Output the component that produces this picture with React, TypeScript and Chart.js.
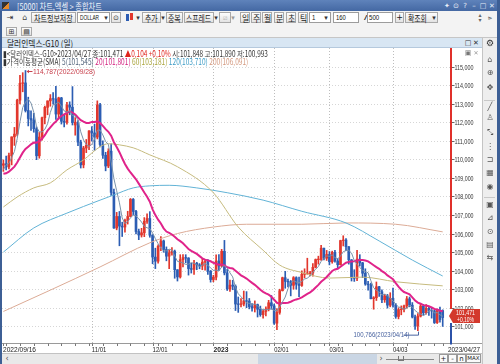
import React, { useEffect, useLayoutEffect, useRef } from "react";
import { Chart, registerables } from "chart.js";
Chart.register(...registerables);

const FONT = "'Noto Sans CJK KR', 'Liberation Sans', sans-serif";
const CFONT = "'Liberation Sans', 'DejaVu Sans', sans-serif";

const dates = [
  "2022/09/16","2022/09/19","2022/09/20","2022/09/21","2022/09/22","2022/09/23","2022/09/26","2022/09/27","2022/09/28","2022/09/29",
  "2022/09/30","2022/10/03","2022/10/04","2022/10/05","2022/10/06","2022/10/07","2022/10/10","2022/10/11","2022/10/12","2022/10/13",
  "2022/10/14","2022/10/17","2022/10/18","2022/10/19","2022/10/20","2022/10/21","2022/10/24","2022/10/25","2022/10/26","2022/10/27",
  "2022/10/28","2022/10/31","2022/11/01","2022/11/02","2022/11/03","2022/11/04","2022/11/07","2022/11/08","2022/11/09","2022/11/10",
  "2022/11/11","2022/11/14","2022/11/15","2022/11/16","2022/11/17","2022/11/18","2022/11/21","2022/11/22","2022/11/23","2022/11/24",
  "2022/11/25","2022/11/28","2022/11/29","2022/11/30","2022/12/01","2022/12/02","2022/12/05","2022/12/06","2022/12/07","2022/12/08",
  "2022/12/09","2022/12/12","2022/12/13","2022/12/14","2022/12/15","2022/12/16","2022/12/19","2022/12/20","2022/12/21","2022/12/22",
  "2022/12/23","2022/12/26","2022/12/27","2022/12/28","2022/12/29","2022/12/30","2023/01/02","2023/01/03","2023/01/04","2023/01/05",
  "2023/01/06","2023/01/09","2023/01/10","2023/01/11","2023/01/12","2023/01/13","2023/01/16","2023/01/17","2023/01/18","2023/01/19",
  "2023/01/20","2023/01/23","2023/01/24","2023/01/25","2023/01/26","2023/01/27","2023/01/30","2023/01/31","2023/02/01","2023/02/02",
  "2023/02/03","2023/02/06","2023/02/07","2023/02/08","2023/02/09","2023/02/10","2023/02/13","2023/02/14","2023/02/15","2023/02/16",
  "2023/02/17","2023/02/20","2023/02/21","2023/02/22","2023/02/23","2023/02/24","2023/02/27","2023/02/28","2023/03/01","2023/03/02",
  "2023/03/03","2023/03/06","2023/03/07","2023/03/08","2023/03/09","2023/03/10","2023/03/13","2023/03/14","2023/03/15","2023/03/16",
  "2023/03/17","2023/03/20","2023/03/21","2023/03/22","2023/03/23","2023/03/24","2023/03/27","2023/03/28","2023/03/29","2023/03/30",
  "2023/03/31","2023/04/03","2023/04/04","2023/04/05","2023/04/06","2023/04/07","2023/04/10","2023/04/11","2023/04/12","2023/04/13",
  "2023/04/14","2023/04/17","2023/04/18","2023/04/19","2023/04/20","2023/04/21","2023/04/24","2023/04/25","2023/04/26","2023/04/27",
];

const opens = [
  109.68,109.76,109.59,110.20,111.21,111.36,113.19,114.10,114.12,112.63,
  112.20,112.12,111.65,110.19,111.20,112.24,112.80,113.15,113.27,113.25,
  112.44,113.31,112.05,112.00,112.92,112.81,111.85,112.00,110.93,109.70,
  110.61,110.75,111.53,111.42,111.20,112.93,110.80,110.22,109.64,110.44,
  108.22,106.30,106.92,106.40,106.35,106.70,106.92,107.84,107.19,106.11,
  105.92,106.04,106.66,106.81,105.91,104.73,104.51,105.31,105.60,105.14,
  104.78,104.96,105.05,104.05,103.66,104.59,104.70,104.68,104.11,104.07,
  104.40,104.31,104.25,104.46,104.49,103.97,103.52,103.65,104.52,104.25,
  105.04,103.88,103.01,103.22,103.16,102.20,102.19,102.20,102.37,102.36,
  102.06,101.99,102.17,101.92,101.63,101.80,101.93,102.27,102.10,101.17,
  101.75,102.92,103.62,103.42,103.40,103.21,103.62,103.27,103.20,103.80,
  103.85,103.86,103.87,104.18,104.60,104.60,105.21,104.67,104.87,104.48,
  104.99,104.52,104.32,105.62,105.65,105.29,104.58,103.61,103.60,104.62,
  104.42,103.86,103.28,103.24,102.49,102.54,103.13,102.86,102.43,102.64,
  102.14,102.51,102.14,101.53,101.90,101.92,102.10,102.48,102.14,101.50,
  101.02,101.55,102.09,101.73,101.97,101.85,101.83,101.20,101.86,101.848,
];
const highs = [
  109.97,110.18,110.34,111.21,111.72,113.24,114.53,114.67,114.787,113.35,
  112.62,112.48,111.75,111.45,112.27,112.87,113.15,113.49,113.60,113.93,
  113.35,113.34,112.41,113.07,113.10,113.92,112.25,112.09,111.03,110.70,
  111.07,111.55,111.76,111.90,113.15,113.02,111.00,110.38,110.57,110.83,
  108.40,107.14,107.19,106.61,106.78,107.20,107.89,107.89,107.25,106.24,
  106.28,106.86,107.06,107.18,105.94,105.21,105.39,105.83,105.65,105.28,
  105.12,105.24,105.11,104.05,104.86,104.86,104.86,104.70,104.40,104.56,
  104.45,104.38,104.61,104.55,104.59,104.01,103.75,104.85,104.87,105.15,
  105.63,104.07,103.49,103.48,103.23,102.58,102.50,102.90,102.87,102.50,
  102.23,102.37,102.20,102.09,101.89,102.05,102.40,102.66,102.20,101.95,
  103.00,103.65,103.96,103.55,103.47,103.68,103.67,103.65,103.99,104.10,
  104.67,103.96,104.38,104.63,104.78,105.36,105.22,105.09,105.03,105.05,
  105.09,104.65,105.64,105.88,105.73,105.30,104.60,104.05,105.10,104.86,
  104.45,104.10,103.43,103.33,102.60,103.39,103.15,102.97,102.73,102.72,
  102.81,103.06,102.23,102.00,102.10,102.14,102.61,102.58,102.28,101.60,
  101.68,102.19,102.18,102.17,102.06,102.02,101.87,101.92,102.03,101.89,
];
const lows = [
  109.35,109.43,109.48,109.70,110.75,111.26,112.99,113.64,112.55,111.80,
  111.56,111.46,109.98,110.06,111.03,111.91,112.40,112.86,112.97,112.15,
  112.17,111.90,111.75,111.90,112.40,111.85,111.30,110.74,109.53,109.54,
  110.36,110.52,110.98,110.48,111.10,110.67,110.05,109.38,109.55,108.05,
  106.27,106.20,105.34,105.84,106.07,106.51,106.90,107.00,105.98,105.67,
  105.81,105.83,106.55,105.80,104.37,104.11,104.40,105.08,104.99,104.53,
  104.11,104.83,103.59,103.44,103.60,104.20,104.42,103.76,103.87,103.80,
  104.05,104.10,104.05,104.02,103.79,103.38,103.40,103.50,104.01,104.20,
  103.77,102.93,102.88,102.97,101.85,101.75,102.05,102.10,102.00,101.94,
  101.82,101.77,101.50,101.54,101.44,101.56,101.83,101.92,101.10,100.82,
  101.65,102.90,103.05,103.12,102.64,103.00,103.00,102.60,103.15,103.61,
  103.80,103.72,103.70,104.15,104.35,104.55,104.58,104.55,104.31,104.40,
  104.46,104.10,104.30,105.33,105.08,104.35,103.44,103.42,103.46,104.25,
  103.62,103.21,102.95,102.48,101.92,102.39,102.61,102.27,102.29,101.98,
  102.05,102.03,101.43,101.40,101.62,101.77,101.98,102.05,101.45,100.83,
  100.766,101.50,101.60,101.65,101.58,101.44,101.15,101.15,101.22,100.993,
];
const closes = [
  109.76,109.59,110.20,111.21,111.36,113.19,114.10,114.12,112.63,112.20,
  112.12,111.65,110.19,111.20,112.24,112.80,113.15,113.27,113.25,112.44,
  113.31,112.05,112.00,112.92,112.81,111.98,112.00,110.93,109.70,110.61,
  110.75,111.53,111.42,111.20,112.93,110.80,110.22,109.64,110.44,108.22,
  106.30,106.92,106.40,106.35,106.70,106.92,107.84,107.19,106.11,105.92,
  106.04,106.66,106.81,105.91,104.73,104.51,105.31,105.60,105.14,104.78,
  104.96,105.05,104.05,103.66,104.59,104.70,104.68,104.11,104.07,104.40,
  104.31,104.25,104.46,104.49,103.97,103.52,103.65,104.52,104.25,105.04,
  103.88,103.01,103.22,103.16,102.20,102.19,102.20,102.37,102.36,102.06,
  101.99,102.17,101.92,101.63,101.80,101.93,102.27,102.10,101.17,101.75,
  102.92,103.62,103.42,103.40,103.21,103.62,103.27,103.20,103.80,103.85,
  103.86,103.87,104.18,104.60,104.62,105.21,104.67,104.87,104.48,104.99,
  104.52,104.32,105.62,105.65,105.29,104.58,103.61,103.60,104.62,104.42,
  103.86,103.28,103.24,102.49,102.54,103.13,102.86,102.43,102.64,102.14,
  102.51,102.14,101.53,101.90,101.92,102.10,102.48,102.14,101.50,101.02,
  101.55,102.09,101.73,101.97,101.85,101.83,101.20,101.86,101.367,101.471,
];
// closes of the 19 sessions before the first bar (needed for SMA 5/20)
const priorCloses = [
  108.99,108.55,108.58,108.45,108.82,108.77,108.77,108.70,109.68,109.55,
  109.83,110.23,109.69,109.54,109.00,108.30,109.79,109.65,109.71,
];

// long moving averages at sample bars
const sma60Idx = [0, 5, 11, 17, 23, 29, 35, 38, 42, 47, 53, 63, 76, 85, 94, 100, 108, 118, 130, 142, 159];
const sma60Val = [107.43, 107.97, 108.46, 108.73, 109.43, 109.97, 110.68, 110.84, 110.78, 110.62, 110.24, 109.6, 108.2, 106.35, 105.1, 104.3, 103.9, 103.6, 103.65, 103.4, 103.18];
const sma120Idx = [0, 11, 23, 35, 40, 47, 53, 60, 70, 81, 94, 108, 124, 136, 148, 159];
const sma120Val = [105.0, 106.3, 107.1, 107.8, 108.08, 108.46, 108.57, 108.6, 108.46, 108.2, 107.8, 107.2, 106.57, 105.6, 104.57, 103.71];
const sma200Idx = [0, 17, 35, 53, 63, 76, 88, 108, 124, 142, 159];
const sma200Val = [101.8, 102.95, 104.2, 105.5, 106.0, 106.35, 106.5, 106.5, 106.57, 106.5, 106.09];

const yTickValues = [101, 102, 103, 104, 105, 106, 107, 108, 109, 110, 111, 112, 113, 114, 115];
const yTickLabels = ["101,000","102,000","103,000","104,000","105,000","106,000","107,000","108,000","109,000","110,000","111,000","112,000","113,000","114,000","115,000"];
const markIdx = [0, 32, 54, 76, 98, 118, 141, 159];
const markLabels = ["2022/09/16", "11/01", "12/01", "2023", "02/01", "03/01", "04/03", "2023/04/27"];
const markWidths = [33, 14.5, 15, 15, 14.5, 14.5, 14.5, 32];

const UP = "#e2372d";
const DOWN = "#2c5db3";

const fmt = (v: number) => v.toFixed(3).replace(".", ",");

function sma(n: number) {
  const all = [...priorCloses, ...closes];
  const off = priorCloses.length;
  return closes.map((_, i) => {
    const j = i + off;
    const s = all.slice(Math.max(0, j - n + 1), j + 1);
    return { x: i, y: s.reduce((a, b) => a + b, 0) / s.length };
  });
}

function Fit({ x, y, w, size = 8.5, color = "#222", bold = false, family = FONT, children }: any) {
  const ref = useRef<HTMLSpanElement>(null);
  useLayoutEffect(() => {
    const el = ref.current;
    if (!el) return;
    const apply = () => {
      const nat = el.offsetWidth || 1;
      el.style.transform = `translateY(-50%) scaleX(${w / nat})`;
    };
    apply();
    const f: any = (document as any).fonts;
    if (f && f.ready) f.ready.then(apply);
  }, [w]);
  return (
    <span
      ref={ref}
      style={{
        position: "absolute", left: x, top: y, whiteSpace: "nowrap", fontSize: size, lineHeight: 1,
        color, fontWeight: bold ? 700 : 400, transformOrigin: "0 50%", fontFamily: family,
      }}
    >
      {children}
    </span>
  );
}

function Box({ x, y, w, h, bg = "linear-gradient(#fdfdfd,#e3e3e3)", border = "#a9a9a9" }: any) {
  return (
    <div style={{ position: "absolute", left: x, top: y, width: w, height: h, boxSizing: "border-box", border: `1px solid ${border}`, background: bg }} />
  );
}

function Glyph({ x, y, ch, size = 8, color = "#555" }: any) {
  return (
    <span style={{ position: "absolute", left: x, top: y, transform: "translate(-50%,-50%)", fontSize: size, lineHeight: 1, color, fontFamily: "'DejaVu Sans', sans-serif", whiteSpace: "nowrap" }}>{ch}</span>
  );
}

const chromePlugin = {
  id: "chrome",
  beforeDatasetsDraw(chart: any) {
    const { ctx, chartArea: a, scales } = chart;
    const x = scales.x, y = scales.y;
    ctx.save();
    ctx.lineWidth = 1;
    ctx.setLineDash([1, 2]);
    ctx.strokeStyle = "#d6d6d6";
    for (const v of yTickValues) {
      const py = Math.round(y.getPixelForValue(v)) + 0.5;
      ctx.beginPath(); ctx.moveTo(a.left, py); ctx.lineTo(a.right, py); ctx.stroke();
    }
    ctx.strokeStyle = "#bdbdbd";
    for (const i of markIdx.slice(1, -1)) {
      const px = Math.round(x.getPixelForValue(i)) + 0.5;
      ctx.beginPath(); ctx.moveTo(px, a.top); ctx.lineTo(px, a.bottom); ctx.stroke();
    }
    ctx.restore();
  },
  afterDraw(chart: any) {
    const { ctx, chartArea: a, scales } = chart;
    const x = scales.x, y = scales.y;
    ctx.save();
    ctx.setLineDash([]);
    ctx.lineWidth = 1;
    const ay = Math.round(a.bottom) + 0.5;
    // axis line
    ctx.strokeStyle = "#9a9a9a";
    ctx.beginPath(); ctx.moveTo(0, ay); ctx.lineTo(chart.width, ay); ctx.stroke();
    // weekly ticks
    ctx.strokeStyle = "#777";
    dates.forEach((d, i) => {
      if (new Date(d.replace(/\//g, "-") + "T12:00:00").getDay() === 1 || markIdx.includes(i)) {
        const px = Math.round(x.getPixelForValue(i)) + 0.5;
        ctx.beginPath(); ctx.moveTo(px, ay); ctx.lineTo(px, ay + 2.5); ctx.stroke();
      }
    });
    // x labels
    ctx.fillStyle = "#222";
    ctx.textBaseline = "middle";
    ctx.textAlign = "left";
    markIdx.forEach((mi, k) => {
      const label = markLabels[k];
      let px = x.getPixelForValue(mi);
      if (k === 0) px = 3;
      if (k === markIdx.length - 1) px = a.right - 3;
      ctx.font = (label === "2023" ? "bold " : "") + `8px ${CFONT}`;
      ctx.fillText(label, px, ay + 6, markWidths[k]);
    });
    // y labels
    ctx.font = `8px ${CFONT}`;
    yTickValues.forEach((v, k) => {
      const py = Math.round(y.getPixelForValue(v)) + 0.5;
      ctx.strokeStyle = "#666";
      ctx.beginPath(); ctx.moveTo(a.right + 1, py); ctx.lineTo(a.right + 3.5, py); ctx.stroke();
      ctx.fillStyle = "#333";
      ctx.fillText(yTickLabels[k], a.right + 3.5, py, 19);
    });
    // current price marker
    const last = closes.length - 1;
    const pc = y.getPixelForValue(closes[last]) - 1.5;
    const bt = pc - 7, bb = pc + 7;
    ctx.lineWidth = 2;
    ctx.strokeStyle = "#e0302a";
    ctx.beginPath(); ctx.moveTo(a.right, a.top); ctx.lineTo(a.right, bt); ctx.stroke();
    ctx.strokeStyle = "#2c52a8";
    ctx.beginPath(); ctx.moveTo(a.right, bb); ctx.lineTo(a.right, ay + 1); ctx.stroke();
    ctx.fillStyle = "#d3382c";
    ctx.beginPath();
    ctx.moveTo(a.right - 2, pc);
    ctx.lineTo(a.right + 2, bt);
    ctx.lineTo(a.right + 29, bt);
    ctx.lineTo(a.right + 29, bb);
    ctx.lineTo(a.right + 2, bb);
    ctx.closePath(); ctx.fill();
    ctx.fillStyle = "#fff";
    ctx.font = `7.5px ${CFONT}`;
    ctx.fillText(fmt(closes[last]), a.right + 5, pc - 3.2, 19);
    ctx.fillText("+0,10%", a.right + 6, pc + 3.4, 17);
    // max annotation
    let hi = 0, lo = 0;
    highs.forEach((v, i) => { if (v > highs[hi]) hi = i; });
    lows.forEach((v, i) => { if (v < lows[lo]) lo = i; });
    const hx = x.getPixelForValue(hi), hy = Math.round(y.getPixelForValue(highs[hi])) + 0.5;
    ctx.lineWidth = 1;
    ctx.strokeStyle = "#c8404c";
    ctx.fillStyle = "#c8404c";
    ctx.beginPath(); ctx.moveTo(hx + 1.5, hy); ctx.lineTo(hx + 7, hy); ctx.stroke();
    ctx.beginPath(); ctx.moveTo(hx + 1, hy); ctx.lineTo(hx + 3.5, hy - 1.8); ctx.lineTo(hx + 3.5, hy + 1.8); ctx.closePath(); ctx.fill();
    ctx.font = `8px ${CFONT}`;
    ctx.fillText(`${fmt(highs[hi])}(${dates[hi]})`, hx + 7.5, hy, 62);
    // min annotation
    const lx = Math.round(x.getPixelForValue(lo)) + 0.5, ly = y.getPixelForValue(lows[lo]);
    const ty = ly + 4.5;
    ctx.strokeStyle = "#4a64a0";
    ctx.fillStyle = "#4a64a0";
    ctx.beginPath(); ctx.moveTo(lx - 15, ty); ctx.lineTo(lx, ty); ctx.lineTo(lx, ly + 1); ctx.stroke();
    ctx.textAlign = "right";
    ctx.fillText(`${fmt(lows[lo])}(${dates[lo]})`, lx - 9, ty, 56);
    ctx.textAlign = "left";
    ctx.restore();
  },
};

export default function App() {
  const canvasRef = useRef<HTMLCanvasElement>(null);

  useEffect(() => {
    const labelsPad = 3;
    const wick = lows.map((l, i) => ({ x: i, y: [l, highs[i]] }));
    const body = opens.map((o, i) => {
      const c = closes[i];
      let lo = Math.min(o, c), hi = Math.max(o, c);
      if (hi - lo < 0.03) { const m = (hi + lo) / 2; lo = m - 0.015; hi = m + 0.015; }
      return { x: i, y: [lo, hi] };
    });
    const colors = opens.map((o, i) => (closes[i] >= o ? UP : DOWN));
    const pts = (idx: number[], val: number[]) => idx.map((v, k) => ({ x: v, y: val[k] }));
    const line = (data: any, color: string, width: number, order: number, smooth = false) => ({
      type: "line", data, borderColor: color, borderWidth: width, pointRadius: 0, order,
      fill: false, cubicInterpolationMode: smooth ? "monotone" : "default", tension: 0,
    });
    const chart = new Chart(canvasRef.current as HTMLCanvasElement, {
      type: "bar",
      data: {
        datasets: [
          { type: "bar", data: wick, backgroundColor: colors, barThickness: 1, grouped: false, order: 6 } as any,
          { type: "bar", data: body, backgroundColor: colors, barThickness: 2, grouped: false, order: 5 } as any,
          line(pts(sma200Idx, sma200Val), "#dcab96", 1, 4, true),
          line(pts(sma120Idx, sma120Val), "#62b3d6", 1, 3, true),
          line(pts(sma60Idx, sma60Val), "#c6bb7e", 1, 2, true),
          line(sma(20), "#e0238a", 2, 1),
          line(sma(5), "#7a92aa", 1, 0),
        ] as any,
      },
      options: {
        animation: false,
        responsive: false,
        events: [],
        layout: { padding: { left: 2, right: 31, top: 0, bottom: 10 } },
        plugins: { legend: { display: false }, tooltip: { enabled: false } },
        scales: {
          x: { type: "linear", min: -0.5, max: closes.length - 1 + labelsPad - 0.5 + 0.5, offset: false, display: false },
          y: { type: "linear", min: 100.1, max: 116, display: false },
        },
      } as any,
      plugins: [chromePlugin],
    });
    return () => chart.destroy();
  }, []);

  const sideIcons = [
    [60, "⌂"], [73, "⊕"], [88, "✥"], [107, "╱"], [118, "♙"], [133, "⤡"], [147, "⋮"], [160, "⊐"],
    [173, "▦"], [187, "◉"], [205, "▣"], [218, "⊿"], [232, "⊙"], [245, "▤"], [258, "⇆"],
  ];

  return (
    <div style={{ position: "fixed", left: 0, top: 0, width: 500, height: 364, overflow: "hidden", background: "#f0f0f0", fontFamily: FONT }}>
      {/* title bar */}
      <div style={{ position: "absolute", left: 0, top: 0, width: 500, height: 11, background: "linear-gradient(#5f83bb,#4468a3)" }} />
      <div style={{ position: "absolute", left: 2, top: 2, width: 7, height: 7, background: "linear-gradient(135deg,#333 50%,#e58a2a 50%)" }} />
      <Fit x={17} y={5.5} w={85} size={9} color="#eef2fa">[5000] 차트,엑셀 &gt; 종합차트</Fit>
      <Glyph x={447} y={5.5} ch="✦" color="#e8eef8" size={7} />
      <Glyph x={456} y={5.5} ch="⊙" color="#e8eef8" size={7} />
      <Glyph x={465} y={5.5} ch="?" color="#e8eef8" size={7} />
      <Glyph x={474} y={5.5} ch="–" color="#e8eef8" size={7} />
      <Glyph x={483} y={5.5} ch="□" color="#e8eef8" size={7} />
      <Glyph x={492} y={5.5} ch="✕" color="#e8eef8" size={7} />

      {/* toolbar */}
      <div style={{ position: "absolute", left: 0, top: 11, width: 500, height: 27, background: "#f3f3f3", borderBottom: "1px solid #c6c6c6", boxSizing: "border-box" }} />
      <Glyph x={10} y={17.5} ch="⇥" color="#333" size={8} />
      <Glyph x={25} y={17.5} ch="⌂" color="#444" size={8} />
      <Box x={31} y={12} w={45} h={11} />
      <Fit x={33.5} y={17.5} w={39} size={9} color="#222">차트정보저장</Fit>
      <Box x={77} y={12} w={33} h={11} bg="#fff" border="#9c9c9c" />
      <Fit x={80} y={17.5} w={19} size={8} color="#111" family={CFONT}>DOLLAR</Fit>
      <Glyph x={106} y={17.5} ch="▾" color="#333" size={7} />
      <Box x={111} y={12} w={10} h={11} />
      <Glyph x={116} y={17.5} ch="⊙" color="#333" size={7} />
      <div style={{ position: "absolute", left: 126, top: 14, width: 3, height: 7, background: "#2c5db3" }} />
      <div style={{ position: "absolute", left: 130, top: 13, width: 3, height: 7, background: "#e2372d" }} />
      <Glyph x={138} y={17.5} ch="▾" color="#333" size={7} />
      <Box x={142} y={12} w={19} h={11} />
      <Fit x={145} y={17.5} w={13} size={9} color="#222">추가</Fit>
      <Glyph x={163} y={17.5} ch="▾" color="#333" size={7} />
      <Box x={166} y={12} w={17} h={11} />
      <Fit x={168} y={17.5} w={13} size={9} color="#222">중복</Fit>
      <Box x={184} y={12} w={30} h={11} />
      <Fit x={186} y={17.5} w={25} size={9} color="#222">스프레드</Fit>
      <Glyph x={216} y={17.5} ch="▾" color="#333" size={7} />
      <Box x={219} y={12} w={12} h={11} />
      <Glyph x={225} y={17.5} ch="⧄" color="#bbb" size={7} />
      <Glyph x={233} y={17.5} ch="▾" color="#999" size={7} />
      {[["일", 240], ["주", 251], ["월", 262], ["분", 274], ["초", 286], ["틱", 298]].map(([t, x]: any) => (
        <React.Fragment key={t}>
          <Box x={x} y={12} w={10} h={11} />
          <Fit x={x + 1.5} y={17.5} w={7} size={9} color="#222">{t}</Fit>
        </React.Fragment>
      ))}
      <Box x={309} y={12} w={22} h={11} bg="#fff" border="#9c9c9c" />
      <Fit x={312} y={17.5} w={3} size={8} color="#111" family={CFONT}>1</Fit>
      <Glyph x={326} y={17.5} ch="▾" color="#333" size={7} />
      <Box x={333} y={12} w={26} h={11} bg="#fff" border="#9c9c9c" />
      <Fit x={336} y={17.5} w={9.5} size={8} color="#111" family={CFONT}>160</Fit>
      <Fit x={364} y={17.5} w={3} size={8} color="#111" family={CFONT}>/</Fit>
      <Box x={367} y={12} w={26} h={11} bg="#fff" border="#9c9c9c" />
      <Fit x={369} y={17.5} w={10} size={8} color="#111" family={CFONT}>500</Fit>
      <Box x={395} y={12} w={9} h={11} />
      <Glyph x={399.5} y={17.5} ch="+" color="#222" size={8} />
      <Box x={405} y={12} w={33} h={11} />
      <Fit x={408} y={17.5} w={19} size={9} color="#222">확조회</Fit>
      <Glyph x={434} y={17.5} ch="▾" color="#333" size={7} />
      <Glyph x={480} y={15} ch="▴" color="#666" size={6} />
      <Glyph x={480} y={20} ch="▾" color="#666" size={6} />
      <Glyph x={490} y={17.5} ch="⫸" color="#444" size={7} />
      <Box x={6} y={27} w={11} h={9} />
      <Glyph x={11.5} y={31.5} ch="⊞" color="#333" size={7} />
      <Box x={21} y={27} w={11} h={9} />
      <Glyph x={26.5} y={31.5} ch="▤" color="#333" size={7} />

      {/* panel header */}
      <div style={{ position: "absolute", left: 2, top: 38, width: 480, height: 10, background: "#d8e6f3", borderBottom: "1px solid #b5c9dd", boxSizing: "border-box" }} />
      <Fit x={7} y={43.3} w={66} size={9} color="#222">달러인덱스-G10 (일)</Fit>
      <Glyph x={468} y={43} ch="□" color="#333" size={7} />
      <Glyph x={476} y={43} ch="✕" color="#333" size={7} />

      {/* chart */}
      <canvas ref={canvasRef} width={482} height={305} style={{ position: "absolute", left: 0, top: 48, width: 482, height: 305, background: "#fff", display: "block" }} />

      {/* legend */}
      <Fit x={3} y={52.5} w={265} size={8.5} color="#333">
        ▮&lt;달러인덱스-G10&gt;2023/04/27 종:101,471 <span style={{ color: "#e0231c" }}>▲0,104 +0,10%</span> 시:101,848 고:101,890 저:100,993
      </Fit>
      <Fit x={3} y={61} w={245} size={8.5} color="#333">
        ▮가격이동평균(SMA) <span style={{ color: "#4f6178" }}>5(101,545)</span> <span style={{ color: "#d3217f" }}>20(101,801)</span>{" "}
        <span style={{ color: "#a9a43c" }}>60(103,181)</span> <span style={{ color: "#3d9cc6" }}>120(103,710)</span>{" "}
        <span style={{ color: "#d49a80" }}>200(106,091)</span>
      </Fit>
      <Glyph x={468} y={52.5} ch="▣" color="#777" size={7} />
      <Glyph x={476} y={52.5} ch="✕" color="#999" size={6} />

      {/* right sidebar */}
      <div style={{ position: "absolute", left: 482, top: 38, width: 15, height: 326, background: "#eeeeee", borderLeft: "1px solid #c4c4c4", boxSizing: "border-box" }} />
      <Glyph x={490} y={43} ch="⚙" color="#333" size={9} />
      {sideIcons.map(([yy, ch]: any) => (
        <Glyph key={yy} x={490} y={yy} ch={ch} color="#555" size={8} />
      ))}
      <div style={{ position: "absolute", left: 484, top: 100, width: 11, height: 1, background: "#c8c8c8" }} />
      <div style={{ position: "absolute", left: 484, top: 197, width: 11, height: 1, background: "#c8c8c8" }} />

      {/* bottom scroll bar */}
      <div style={{ position: "absolute", left: 0, top: 353, width: 482, height: 11, background: "#e9e9e9", borderTop: "1px solid #c2c2c2", boxSizing: "border-box" }} />
      <Glyph x={7} y={358.5} ch="‹" color="#555" size={8} />
      <div style={{ position: "absolute", left: 258, top: 354, width: 119, height: 10, background: "#cad6e4" }} />
      <Glyph x={381} y={358.5} ch="›" color="#555" size={8} />
      <div style={{ position: "absolute", left: 386, top: 359, width: 48, height: 1, background: "#888" }} />
      <div style={{ position: "absolute", left: 398, top: 356, width: 4, height: 4, borderLeft: "1px solid #777", borderRight: "1px solid #777", borderBottom: "1px solid #777" }} />
      {[["+", 439, 9], ["-", 448, 9], ["n", 457, 9], ["MAX", 466, 15]].map(([t, x, w]: any) => (
        <React.Fragment key={t}>
          <Box x={x} y={354} w={w} h={9} bg="#fafafa" border="#999" />
          <Glyph x={x + w / 2} y={358.5} ch={t} color="#222" size={t === "MAX" ? 5.5 : 7} />
        </React.Fragment>
      ))}

      {/* window frame */}
      <div style={{ position: "absolute", left: 0, top: 11, width: 2, height: 353, background: "#3d5f95" }} />
      <div style={{ position: "absolute", left: 497, top: 0, width: 3, height: 364, background: "#3d5f95" }} />
    </div>
  );
}
